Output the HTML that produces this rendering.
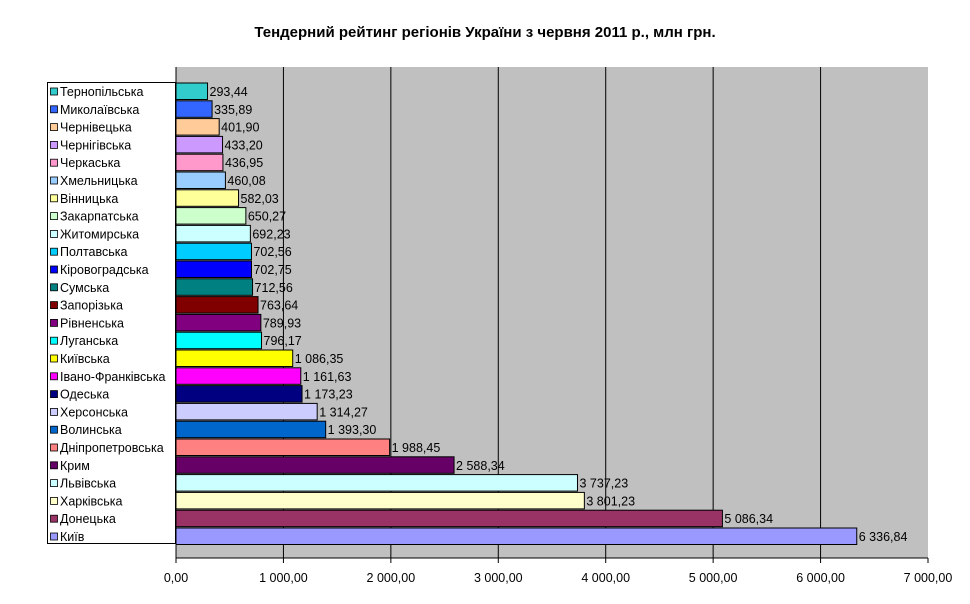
<!DOCTYPE html>
<html><head><meta charset="utf-8"><style>
body{margin:0;background:#fff}
svg{display:block;font-family:"Liberation Sans",Arial,sans-serif}
</style></head><body>
<svg id="s" width="970" height="604" xmlns="http://www.w3.org/2000/svg"></svg>
<script>
const d=[["Тернопільська",293.44,"#33CCCC"],["Миколаївська",335.89,"#3366FF"],["Чернівецька",401.90,"#FFCC99"],["Чернігівська",433.20,"#CC99FF"],["Черкаська",436.95,"#FF99CC"],["Хмельницька",460.08,"#99CCFF"],["Вінницька",582.03,"#FFFF99"],["Закарпатська",650.27,"#CCFFCC"],["Житомирська",692.23,"#CCFFFF"],["Полтавська",702.56,"#00CCFF"],["Кіровоградська",702.75,"#0000FF"],["Сумська",712.56,"#008080"],["Запорізька",763.64,"#800000"],["Рівненська",789.93,"#800080"],["Луганська",796.17,"#00FFFF"],["Київська",1086.35,"#FFFF00"],["Івано-Франківська",1161.63,"#FF00FF"],["Одеська",1173.23,"#000080"],["Херсонська",1314.27,"#CCCCFF"],["Волинська",1393.30,"#0066CC"],["Дніпропетровська",1988.45,"#FF8080"],["Крим",2588.34,"#660066"],["Львівська",3737.23,"#CCFFFF"],["Харківська",3801.23,"#FFFFCC"],["Донецька",5086.34,"#993366"],["Київ",6336.84,"#9999FF"]];
const L=176,R=928,T=67,B=558,k=(R-L)/7000;
function fmt(v){let s=v.toFixed(2).replace('.',',');let [i,f]=s.split(',');i=i.replace(/\B(?=(\d{3})+(?!\d))/g,' ');return i+','+f;}
let h=`<text x="485" y="37" text-anchor="middle" font-size="15" font-weight="bold">Тендерний рейтинг регіонів України з червня 2011 р., млн грн.</text>`;
h+=`<rect x="${L}" y="${T}" width="${R-L}" height="${B-T}" fill="#C0C0C0"/>`;
for(let i=0;i<=7;i++){const x=L+i*1000*k;
 if(i>0&&i<7)h+=`<line x1="${x}" y1="${T}" x2="${x}" y2="${B}" stroke="#000" stroke-width="1"/>`;
 h+=`<line x1="${x}" y1="${B}" x2="${x}" y2="${B+5}" stroke="#000"/>`;
 h+=`<text x="${x}" y="582" text-anchor="middle" font-size="12.5">${fmt(i*1000)}</text>`;}
h+=`<line x1="${L}" y1="${B}" x2="${R}" y2="${B}" stroke="#000"/>`;
h+=`<line x1="${L}" y1="${T}" x2="${L}" y2="${B}" stroke="#000"/>`;
h+=`<rect x="47.5" y="82.5" width="128" height="461" fill="#fff" stroke="#000"/>`;
d.forEach((r,i)=>{const y=83+i*17.8;const w=r[1]*k;
 h+=`<rect x="${L}" y="${y}" width="${w}" height="16.5" fill="${r[2]}" stroke="#000" stroke-width="1"/>`;
 h+=`<text x="${L+w+2}" y="${y+13}" font-size="12.5" fill="#000">${fmt(r[1])}</text>`;
 h+=`<rect x="50.5" y="${y+5}" width="7" height="7" fill="${r[2]}" stroke="#000" stroke-width="0.8"/>`;
 h+=`<text x="60" y="${y+13}" font-size="12.5">${r[0]}</text>`;});
document.getElementById('s').innerHTML=h;
</script>
</body></html>
